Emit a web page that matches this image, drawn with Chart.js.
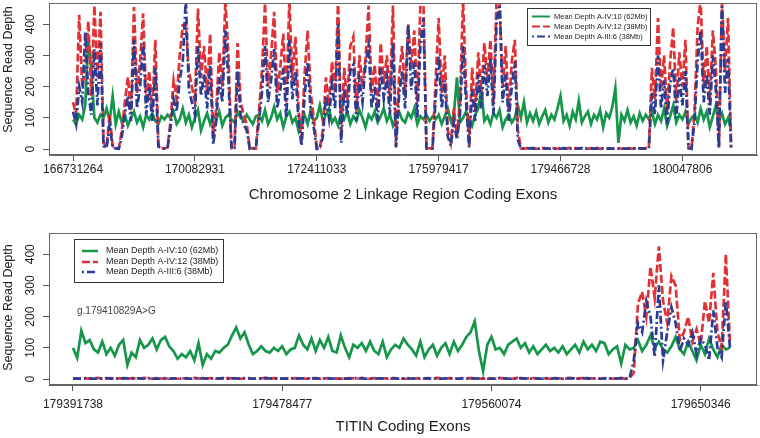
<!DOCTYPE html>
<html><head><meta charset="utf-8">
<script src="https://cdn.jsdelivr.net/npm/chart.js@4.4.0/dist/chart.umd.min.js"></script>
<style>
html,body{margin:0;padding:0;background:#fff;}
#wrap{position:relative;width:760px;height:438px;background:#fff;}
canvas{position:absolute;left:0;}
#c1{top:0;} #c2{top:220px;}
</style></head><body>
<div id="wrap"><canvas id="c1" width="760" height="220"></canvas><canvas id="c2" width="760" height="218"></canvas></div>
<script>
const seriesNames = ['Mean Depth A-IV:10 (62Mb)', 'Mean Depth A-IV:12 (38Mb)', 'Mean Depth A-III:6 (38Mb)'];
const yTicks = [0, 100, 200, 300, 400];
const yAxisTitle = 'Sequence Read Depth';

// ---- top panel: chromosome 2 linkage region ----
const topXTitle = 'Chromosome 2 Linkage Region Coding Exons';
const topTickIndex = [0, 40, 80, 120, 160, 200];
const topTickLabels = ['166731264', '170082931', '172411033', '175979417', '179466728', '180047806'];
const topGreen = [95,80,110,95,140,360,250,100,85,110,
 100,130,90,170,80,120,
 85,110,75,100,120,85,105,70,110,95,115,90,
 80,105,95,110,
 100,120,80,95,130,85,110,70,100,125,60,90,115,80,105,95,120,75,100,110,
 95,85,120,100,90,110,95,80,105,
 110,90,125,80,100,135,95,115,70,105,120,85,100,60,95,110,80,125,90,
 100,140,
 90,110,130,85,100,75,115,95,120,80,105,90,125,100,70,110,95,120,85,105,130,90,110,75,100,120,95,85,115,100,130,80,105,95,
 110,90,105,
 95,110,80,105,130,90,110,230,85,100,120,95,75,110,130,190,90,105,80,115,100,125,70,95,110,85,100,140,
 100,150,85,115,90,120,80,105,125,85,110,95,130,170,90,110,75,120,95,155,85,105,120,80,110,95,125,70,115,100,135,195,20,110,90,125,85,105,75,115,90,110,
 95,120,80,110,90,130,75,105,140,85,110,95,120,80,100,
 110,85,130,95,120,70,105,140,90,115,80,100,60];
const topRed = [150,110,430,200,260,410,170,460,230,440,
 20,5,110,10,3,2,
 60,150,230,120,455,180,280,435,160,250,120,350,
 15,3,2,5,
 90,220,160,300,397,400,250,200,150,450,230,330,180,370,40,130,310,200,480,300,
 3,5,340,150,110,80,2,3,2,
 120,250,468,200,300,440,180,260,370,150,480,220,360,130,20,240,380,180,100,
 3,5,
 60,230,140,280,180,480,40,260,150,330,360,120,300,200,290,460,180,270,130,340,210,300,160,460,10,230,330,180,400,260,380,150,460,480,
 5,2,4,
 220,420,180,300,60,20,130,40,150,480,200,10,260,120,310,180,340,220,350,150,480,470,200,330,120,280,350,60,
 2,1,3,2,4,1,2,3,1,2,5,2,1,3,2,1,4,2,3,1,2,2,1,3,2,4,1,2,3,2,1,2,3,1,2,4,2,1,3,2,1,3,
 5,260,160,420,190,300,120,280,390,150,310,200,350,5,2,
 120,390,480,200,330,150,380,260,5,470,250,420,5];
const topBlue = [120,80,200,150,375,180,110,320,140,340,
 10,3,80,5,2,1,
 40,110,170,90,350,130,200,340,110,200,90,260,
 8,2,1,3,
 70,160,120,220,280,480,190,150,110,330,170,240,130,270,15,90,230,150,380,220,
 2,3,250,110,80,60,1,2,1,
 90,180,330,150,220,320,130,190,260,100,350,160,250,90,10,170,280,120,70,
 1,2,
 40,170,100,210,130,400,20,190,110,250,270,90,220,150,270,330,130,200,90,260,160,230,110,340,5,170,250,130,400,190,280,100,330,420,
 2,1,2,
 160,300,130,220,40,10,90,30,110,330,150,5,190,90,240,130,270,170,290,110,400,480,150,240,90,200,280,30,
 1,2,1,3,1,2,1,2,3,1,2,1,2,1,3,2,1,2,1,2,3,1,2,1,2,1,3,2,1,2,1,3,1,2,1,2,1,3,1,2,2,1,
 2,180,110,300,130,220,80,210,260,100,230,140,250,3,1,
 90,280,380,150,240,110,300,190,3,480,180,290,2];

// ---- bottom panel: TITIN ----
const botXTitle = 'TITIN Coding Exons';
const botTickIndex = [0, 50, 100, 150];
const botTickLabels = ['179391738', '179478477', '179560074', '179650346'];
const botNote = 'g.179410829A>G';
const botGreen = [100,68,155,115,125,95,85,120,80,100,
 75,110,125,45,85,70,125,100,110,130,
 95,125,135,105,90,65,80,70,90,60,
 115,45,80,65,90,85,100,110,140,165,
 130,150,110,80,90,105,
 90,85,100,90,105,80,95,100,140,110,
 95,130,90,125,100,135,90,85,140,100,
 70,110,100,115,90,120,90,80,120,70,
 95,110,100,130,110,95,75,120,70,95,
 110,75,100,115,80,120,90,110,135,150,
 185,90,25,110,135,95,100,80,110,
 120,130,100,115,85,105,80,95,110,90,
 100,85,105,80,95,110,85,120,95,110,
 90,120,115,80,95,105,50,110,95,100,
 125,90,110,140,100,120,95,85,105,135,
 95,80,120,90,60,110,80,130,95,70,
 110,95,100];
const botRed = [2,1,3,2,1,2,4,1,2,3,1,2,2,1,3,2,1,4,2,1,
 3,2,1,2,2,1,3,1,2,4,2,1,2,3,1,2,1,3,2,2,
 1,2,3,1,2,2,4,1,3,2,1,2,1,3,2,2,1,4,2,1,
 2,3,1,2,1,2,3,2,1,4,2,1,3,1,2,2,1,3,2,1,
 1,2,2,3,1,2,1,4,2,1,3,2,1,2,2,3,1,2,1,3,
 2,1,3,2,2,1,4,2,1,2,3,1,2,2,1,3,2,1,2,4,
 1,2,3,1,2,2,1,3,2,1,2,4,1,3,
 20,240,280,200,360,260,425,250,180,330,300,125,150,200,120,160,110,250,180,340,150,100,400,110];
const botBlue = [1,2,1,3,2,1,2,2,3,1,2,1,3,2,1,2,2,1,3,1,
 2,1,3,1,2,2,1,3,1,2,2,3,1,2,1,2,3,1,2,2,
 1,3,2,1,2,1,3,2,2,1,2,1,3,1,2,2,1,2,3,1,
 2,2,1,3,1,2,1,2,3,2,1,3,1,2,2,1,3,2,1,2,
 3,1,2,1,2,3,1,2,1,2,2,3,1,2,1,3,2,1,2,1,
 1,2,3,2,1,2,1,3,2,1,2,2,1,3,1,2,2,1,3,2,
 2,1,2,3,1,2,1,2,3,1,2,2,1,3,
 60,180,150,250,200,70,300,60,150,230,180,90,130,110,150,80,130,110,60,220,100,70,250,100];

const FONT = '"Liberation Sans", Arial, Helvetica, sans-serif';
const GREEN = '#15964a', RED = '#e03236', BLUE = '#2b3c93';
Chart.defaults.font.family = FONT;

const deco = {
  id: 'deco',
  afterDraw(chart, args, o) {
    const ctx = chart.ctx, ca = chart.chartArea, ys = chart.scales.y;
    ctx.save();
    ctx.strokeStyle = '#666'; ctx.lineWidth = 1; ctx.setLineDash([]);
    ctx.strokeRect(Math.round(ca.left) + 0.5, Math.round(ca.top) + 0.5, Math.round(ca.right - ca.left) - 1, Math.round(ca.bottom - ca.top) - 1);
    ctx.fillStyle = '#222'; ctx.font = '12px ' + FONT; ctx.textAlign = 'center'; ctx.textBaseline = 'middle';
    yTicks.forEach(v => {
      const py = ys.getPixelForValue(v);
      ctx.save(); ctx.translate(31, py); ctx.rotate(-Math.PI / 2); ctx.fillText(String(v), 0, 0); ctx.restore();
    });
    ctx.font = '12.5px ' + FONT;
    ctx.save(); ctx.translate(9, o.yTitleY); ctx.rotate(-Math.PI / 2); ctx.fillText(yAxisTitle, 0, 0); ctx.restore();
    const L = o.legend;
    ctx.fillStyle = '#fff'; ctx.fillRect(L.x, L.y, L.w, L.h);
    ctx.strokeStyle = '#333'; ctx.lineWidth = 1;
    ctx.strokeRect(L.x + 0.5, L.y + 0.5, L.w, L.h);
    chart.data.datasets.forEach((ds, k) => {
      const yy = L.rows[k];
      ctx.strokeStyle = ds.borderColor; ctx.lineWidth = L.lw;
      ctx.setLineDash(ds.borderDash || []); ctx.lineDashOffset = ds.legendOffset || 0;
      ctx.beginPath(); ctx.moveTo(L.s0, yy); ctx.lineTo(L.s1, yy); ctx.stroke();
      ctx.setLineDash([]); ctx.lineDashOffset = 0;
      ctx.fillStyle = '#222'; ctx.font = L.font + 'px ' + FONT; ctx.textAlign = 'left'; ctx.textBaseline = 'middle';
      ctx.fillText(ds.label, L.tx, yy);
    });
    if (o.note) {
      ctx.fillStyle = '#444'; ctx.font = '10px ' + FONT; ctx.textAlign = 'left'; ctx.textBaseline = 'middle';
      ctx.fillText(o.note.text, o.note.x, o.note.y);
    }
    ctx.restore();
  }
};

function makeChart(id, p) {
  const toPts = arr => arr.map((v, i) => ({x: i, y: v}));
  const ds = [
    {label: seriesNames[0], data: toPts(p.green), borderColor: GREEN, borderWidth: p.lw, order: 3},
    {label: seriesNames[1], data: toPts(p.red), borderColor: RED, borderWidth: p.lw, borderDash: [8, 3], order: 2},
    {label: seriesNames[2], data: toPts(p.blue), borderColor: BLUE, borderWidth: p.lw, borderDash: [8, 3, 2, 3], legendOffset: 11, order: 1}
  ];
  return new Chart(document.getElementById(id), {
    type: 'line',
    data: {datasets: ds},
    plugins: [deco],
    options: {
      responsive: false, animation: false, devicePixelRatio: 1,
      layout: {padding: {left: 0, right: 3, top: p.padTop, bottom: 0}},
      elements: {point: {radius: 0, hoverRadius: 0}, line: {tension: 0, fill: false, borderCapStyle: 'butt', borderJoinStyle: 'miter'}},
      plugins: {legend: {display: false}, tooltip: {enabled: false}, deco: {yTitleY: p.yTitleY, legend: p.legend, note: p.note}},
      scales: {
        x: {
          type: 'linear', min: p.xMin, max: p.xMax,
          afterBuildTicks: s => { s.ticks = p.tickIndex.map(v => ({value: v})); },
          afterFit: s => { s.height = p.xAxisH; },
          grid: {drawOnChartArea: false, drawTicks: true, tickLength: 6, color: '#555'},
          border: {display: true, color: '#666'},
          ticks: {autoSkip: false, minRotation: 0, maxRotation: 0, padding: p.tickPad, color: '#222', font: {size: 12},
                  callback: (v, i) => p.tickLabels[i]},
          title: {display: true, text: p.xTitle, color: '#222', font: {size: 15}, padding: {top: 0, bottom: p.titlePadB}}
        },
        y: {
          type: 'linear', min: -19, max: 468,
          afterBuildTicks: s => { s.ticks = yTicks.map(v => ({value: v})); },
          afterFit: s => { s.width = 49; },
          grid: {drawOnChartArea: false, drawTicks: true, tickLength: 6, color: '#555'},
          border: {display: true, color: '#666'},
          ticks: {display: false}
        }
      }
    }
  });
}

makeChart('c1', {
  green: topGreen, red: topRed, blue: topBlue, lw: 2.7,
  tickIndex: topTickIndex, tickLabels: topTickLabels, xTitle: topXTitle,
  xMin: -7.9, xMax: 224.5, padTop: 3, xAxisH: 65, tickPad: 1.5, titlePadB: 16, yTitleY: 69.5,
  legend: {x: 527, y: 8, w: 123, h: 37, rows: [16.5, 26.5, 36.5], s0: 532, s1: 550, tx: 554, font: 7.5, lw: 2}
});
makeChart('c2', {
  green: botGreen, red: botRed, blue: botBlue, lw: 2.7,
  tickIndex: botTickIndex, tickLabels: botTickLabels, xTitle: botXTitle,
  xMin: -5.73, xMax: 163.45, padTop: 13, xAxisH: 53, tickPad: 6, titlePadB: 2, yTitleY: 87.5,
  legend: {x: 74, y: 19, w: 149, h: 43, rows: [31, 42, 52], s0: 82, s1: 98, tx: 106, font: 9, lw: 2.5},
  note: {text: botNote, x: 77, y: 91}
});
</script>
</body></html>
